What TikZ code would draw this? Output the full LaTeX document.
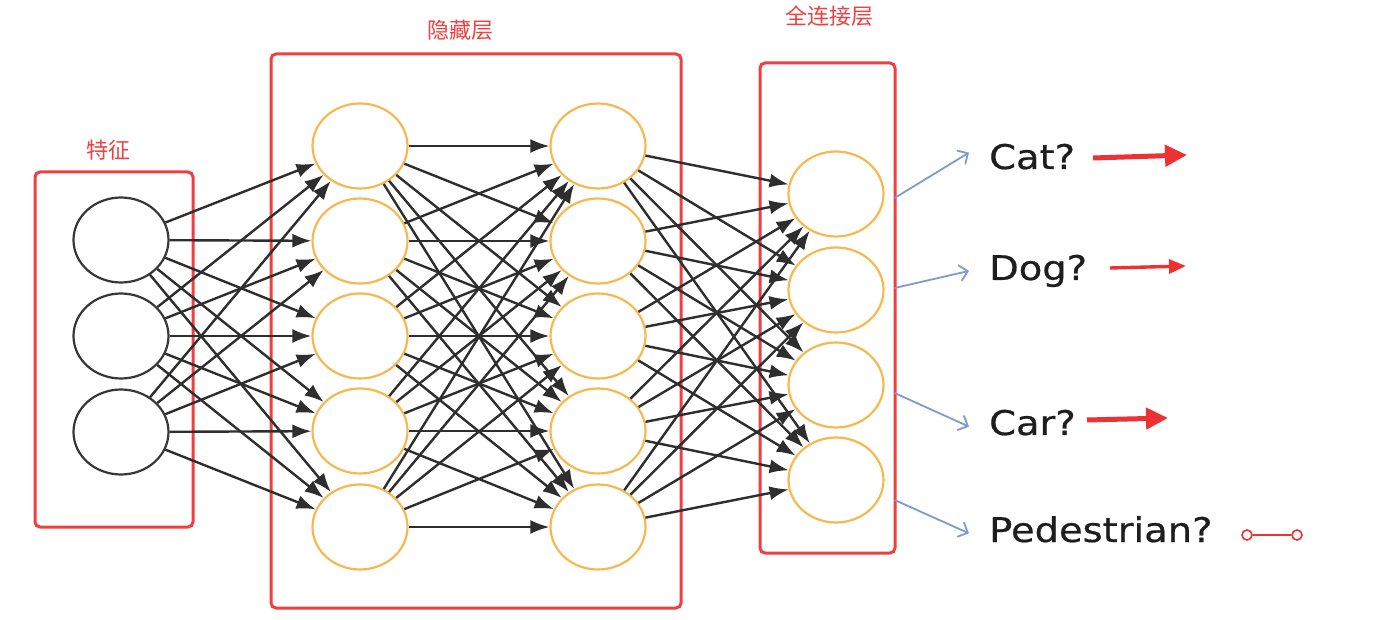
\documentclass[tikz,border=0pt]{standalone}
\usepackage{fontspec}
\setmainfont{DejaVu Sans}
\newfontfamily\labelfont[FakeStretch=1.13,FakeBold=0.6]{DejaVu Sans}
\newfontfamily\cjk{Noto Sans CJK SC}
\usetikzlibrary{shapes.geometric,arrows.meta}
\definecolor{boxred}{RGB}{238,64,64}
\definecolor{nodeorange}{RGB}{246,185,80}
\definecolor{nodegray}{RGB}{55,55,55}
\definecolor{linkblue}{RGB}{125,155,205}
\definecolor{arrowred}{RGB}{236,50,50}
\definecolor{textdark}{RGB}{30,30,30}
\begin{document}
\begin{tikzpicture}[x=1pt,y=-1pt,
  neuron/.style={ellipse,line width=2.2pt,minimum width=95pt,minimum height=85pt,inner sep=0pt,fill=white},
  inneuron/.style={neuron,draw=nodegray},
  hidneuron/.style={neuron,draw=nodeorange},
  layerbox/.style={draw=boxred,line width=3pt,rounded corners=5pt},
  boxlabel/.style={text=boxred,font=\cjk\fontsize{22}{25}\selectfont,inner sep=0pt},
  link/.style={draw=black!82,line width=2.4pt,-{Latex[length=19pt,width=14pt]}},
  outlink/.style={draw=linkblue,line width=1.8pt,-{Straight Barb[length=8pt,width=16pt]}},
  classlabel/.style={anchor=base west,font=\labelfont\fontsize{34}{40}\selectfont,text=textdark,inner sep=0pt},
  redbig/.style={draw=arrowred,line width=5pt,-{Triangle[length=22pt,width=21pt]}},
  redsmall/.style={draw=arrowred,line width=3.4pt,-{Triangle[length=17pt,width=14pt]}},
  endring/.style={circle,draw=arrowred,line width=1.6pt,minimum size=10pt,inner sep=0pt,fill=white},
]
\useasboundingbox (0,0) rectangle (1393,620);
\fill[white] (0,0) rectangle (1393,620);

% layer boxes
\draw[layerbox] (35,172) rectangle (193,527);
\draw[layerbox] (271,54) rectangle (681,608);
\draw[layerbox] (760,63) rectangle (895,553);

% box labels
\node[boxlabel] (lfeat) at (108,150) {特征};
\node[boxlabel] (lhid) at (460,30) {隐藏层};
\node[boxlabel] (lfc) at (829,16) {全连接层};

% input neurons
\node[inneuron] (i1) at (121,240) {};
\node[inneuron] (i2) at (121,336) {};
\node[inneuron] (i3) at (121,432) {};

% hidden layer 1
\foreach \k/\y in {1/146,2/241,3/336,4/431,5/527}{
  \node[hidneuron] (h\k) at (360,\y) {};
}
% hidden layer 2
\foreach \k/\y in {1/146,2/241,3/336,4/431,5/527}{
  \node[hidneuron] (g\k) at (598,\y) {};
}
% output layer
\foreach \k/\y in {1/194,2/290,3/385,4/480}{
  \node[hidneuron] (o\k) at (836,\y) {};
}

% connections
\foreach \a in {1,2,3}{
  \foreach \b in {1,...,5}{
    \draw[link] (i\a) -- (h\b);
  }
}
\foreach \a in {1,...,5}{
  \foreach \b in {1,...,5}{
    \draw[link] (h\a) -- (g\b);
  }
}
\foreach \a in {1,...,5}{
  \foreach \b in {1,...,4}{
    \draw[link] (g\a) -- (o\b);
  }
}

% class labels
\node[classlabel] (cat) at (989,169) {Cat?};
\node[classlabel] (dog) at (989,280) {Dog?};
\node[classlabel] (car) at (989,435) {Car?};
\node[classlabel] (ped) at (989,542) {Pedestrian?};

% blue arrows
\draw[outlink] ([shift={(10,4)}]o1.east) -- ([shift={(-20,-4)}]cat.west);
\draw[outlink] ([shift={(10,-2)}]o2.east) -- ([shift={(-20,0)}]dog.west);
\draw[outlink] ([shift={(10,8)}]o3.east) -- ([shift={(-20,4)}]car.west);
\draw[outlink] ([shift={(10,20)}]o4.east) -- ([shift={(-20,4)}]ped.west);

% red marks
\coordinate (cs) at (1093,158);
\coordinate (ce) at (1187,155);
\draw[redbig] (cs) -- (ce);
\coordinate (ds) at (1110,268);
\coordinate (de) at (1186,266);
\draw[redsmall] (ds) -- (de);
\coordinate (rs) at (1087,420);
\coordinate (re) at (1168,418);
\draw[redbig] (rs) -- (re);
\node[endring] (p1) at (1247,535) {};
\node[endring] (p2) at (1297,535) {};
\draw[arrowred,line width=1.4pt] (p1) -- (p2);
\end{tikzpicture}
\end{document}
